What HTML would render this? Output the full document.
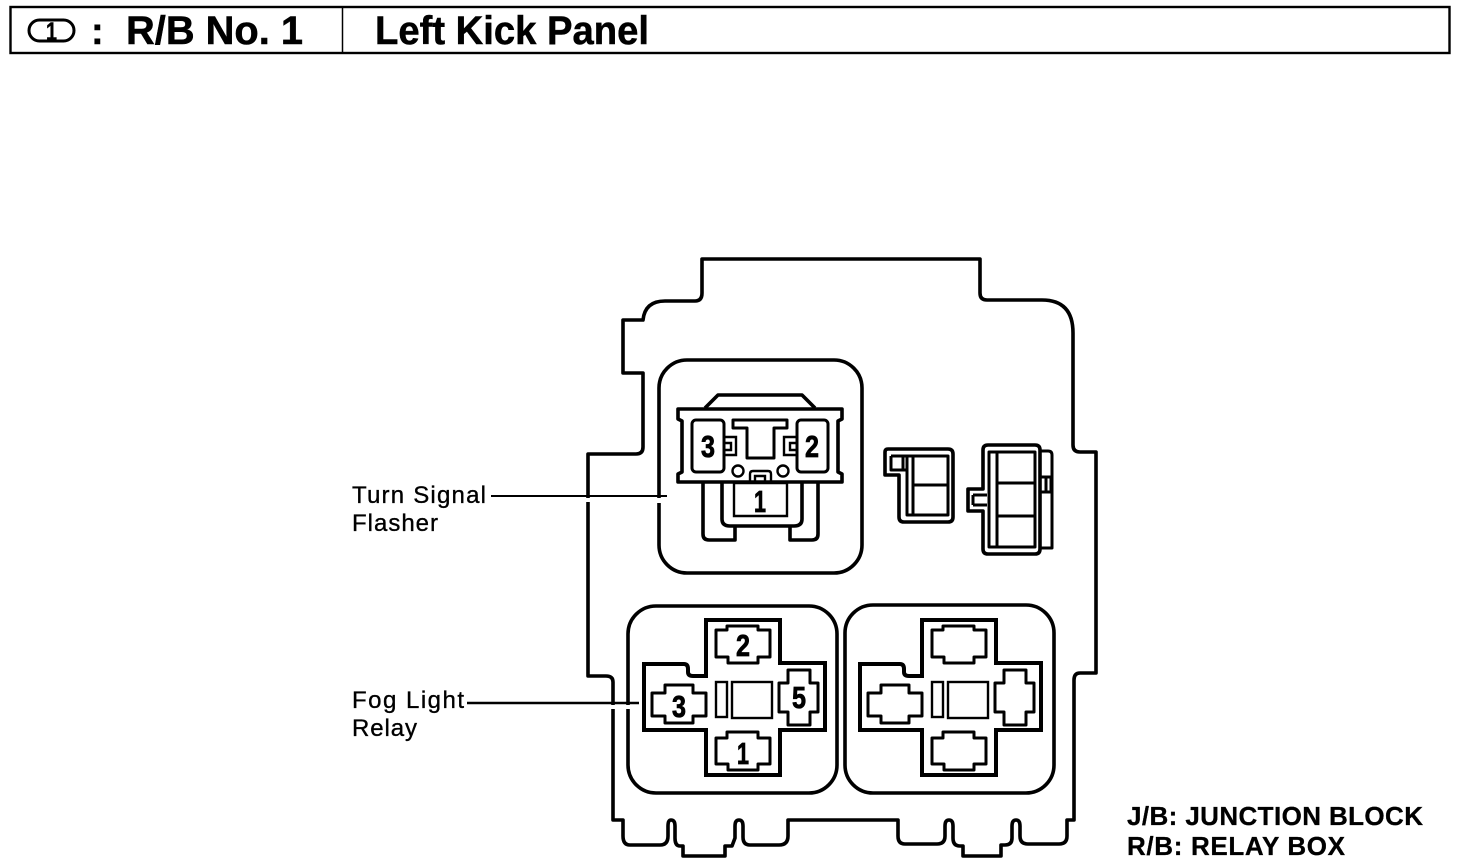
<!DOCTYPE html>
<html><head><meta charset="utf-8"><style>
html,body{margin:0;padding:0;background:#fff;width:1472px;height:864px;overflow:hidden}
svg{display:block}
text{font-family:"Liberation Sans",sans-serif;fill:#000}
.b{font-weight:bold;stroke:#000;stroke-width:.5}
.n{font-weight:bold;font-size:31px;text-anchor:middle;stroke:#000;stroke-width:.8}
.l{font-size:24px;stroke:#000;stroke-width:.35}
.o{fill:none;stroke:#000;stroke-width:3.6;stroke-linejoin:round}
.c{fill:none;stroke:#000;stroke-width:4;stroke-linejoin:miter}
.m{fill:none;stroke:#000;stroke-width:3;stroke-linejoin:round}
.t{fill:none;stroke:#000;stroke-width:2.4}
</style></head><body>
<svg width="1472" height="864" viewBox="0 0 1472 864" xmlns="http://www.w3.org/2000/svg">
<rect x="10.5" y="7" width="1439" height="46" fill="none" stroke="#000" stroke-width="2.4"/>
<line x1="342.5" y1="7" x2="342.5" y2="53" stroke="#000" stroke-width="1.5"/>
<rect x="29" y="20" width="45" height="21" rx="10.5" fill="none" stroke="#000" stroke-width="3"/>
<text x="51.5" y="40" class="b" font-size="25" text-anchor="middle" textLength="11" lengthAdjust="spacingAndGlyphs">1</text>
<text x="91" y="44" class="b" font-size="38">:</text>
<text x="126" y="44" class="b" font-size="40" textLength="177" lengthAdjust="spacingAndGlyphs">R/B No. 1</text>
<text x="375" y="44" class="b" font-size="40" textLength="274" lengthAdjust="spacingAndGlyphs">Left Kick Panel</text>

<path class="o" d="M702 259H980V293Q980 300 987 300H1042Q1073 300 1073 333V445Q1073 452 1080 452H1096V673H1080Q1074 673 1074 680V820H1067V836Q1067 844 1059 844H1028Q1020 844 1020 836V826Q1020 820 1016 820Q1012 820 1012 826V838Q1012 845 1005 845H1001V856H963V846H960Q953 846 953 838V826Q953 820 949 820Q945 820 945 826V836Q945 844 937 844H905Q898 844 898 836V820H788V836Q788 845 779 845H750Q743 845 743 837V826Q743 820 739 820Q735 820 735 826V838L732 846H725V856H683V846H680Q675 846 675 838V826Q675 820 671 820Q668 820 668 826V836Q668 845 660 845H630Q623 845 623 836V820H613V682Q613 676 606 676H588V454H636Q643 454 643 447V373H623V320H643Q645 301 665 301H695Q702 301 702 293Z"/>

<rect x="659" y="360" width="203" height="213" rx="28" class="o"/>
<rect x="628" y="606" width="209" height="187" rx="28" class="o"/>
<rect x="845" y="605" width="209" height="188" rx="28" class="o"/>

<!-- leaders with gaps -->
<rect x="583" y="498" width="10" height="4" fill="#fff"/>
<rect x="654" y="498" width="10" height="5" fill="#fff"/>
<line x1="491" y1="496" x2="667" y2="496" stroke="#000" stroke-width="2"/>
<rect x="608" y="705" width="10" height="4" fill="#fff"/>
<rect x="623" y="705" width="10" height="4" fill="#fff"/>
<line x1="467" y1="703" x2="639" y2="703" stroke="#000" stroke-width="2.6"/>

<text x="352" y="503" class="l" textLength="134">Turn Signal</text>
<text x="352" y="531" class="l" textLength="86">Flasher</text>
<text x="352" y="708" class="l" textLength="112">Fog Light</text>
<text x="352" y="736" class="l" textLength="65">Relay</text>

<!-- flasher -->
<path class="o" d="M705 408L718 395H802L815 408"/>
<path class="o" d="M678 409H842V419L838 421V472L842 474V482H678V474L682 472V421L678 419Z"/>
<path class="o" d="M722 482V519Q722 526 730 526H735V540H709Q703 540 703 534V483M802 482V519Q802 526 794 526H790V540H812Q818 540 818 534V483M735 526H790"/>
<rect x="692" y="420" width="32" height="52" rx="4" class="m"/>
<rect x="797" y="420" width="31" height="52" rx="4" class="m"/>
<path class="m" d="M733 420H787V428H774V458H747V428H733Z"/>
<path class="t" d="M724 437H736V455H724M724 443H731V450H724M797 437H784V455H797M797 443H790V450H797"/>
<circle cx="738" cy="471" r="5.5" class="t"/>
<circle cx="783" cy="471" r="5.5" class="t"/>
<path class="t" d="M750 483V474Q750 471 753 471H768Q771 471 771 474V483M755 483V476H765V483"/>
<path class="t" d="M734 483H787V516H734Z"/>
<text x="708" y="457" class="n" textLength="14" lengthAdjust="spacingAndGlyphs">3</text>
<text x="812" y="457" class="n" textLength="14" lengthAdjust="spacingAndGlyphs">2</text>
<text x="760" y="512" class="n" textLength="12" lengthAdjust="spacingAndGlyphs">1</text>

<!-- small connectors -->
<path class="o" d="M888 449H948Q953 449 953 454V517Q953 522 948 522H904Q899 522 899 517V475H885V452Q885 449 888 449Z"/>
<path class="m" d="M891 456V470H907M891 456H948V515H907V456M913 456V515M903 456V470M913 485H948"/>
<path class="o" d="M988 445H1035Q1040 445 1040 450V549Q1040 554 1035 554H988Q983 554 983 549V511H968V489H983V450Q983 445 988 445Z"/>
<path class="m" d="M989 452H1035V547H989ZM997 452V547M997 483H1035M997 516H1035"/>
<path class="m" d="M1040 451H1048Q1052 451 1052 455V548H1040M1040 477H1051V492H1040M1046 477V492M973 495H987M973 505H987M973 495V505"/>

<!-- crosses -->
<g>
<path class="c" d="M706 620H780V663H825V730H780V775H706V730H644V664H684Q688 664 688 669V672Q688 676 693 676H706Z"/>
<path class="m" d="M716 630H727V626H758V630H770V657H758V663H728V657H716ZM652 693H665V685H693V693H706V716H693V723H665V716H652ZM788 670H810V683H818V712H810V725H788V712H779V683H788ZM716 738H727V732H758V738H770V764H758V770H728V764H716Z"/>
<rect x="716" y="682" width="11" height="35" class="t"/>
<rect x="732" y="682" width="40" height="36" class="t"/>
</g>
<g transform="translate(216,0)">
<path class="c" d="M706 620H780V663H825V730H780V775H706V730H644V664H684Q688 664 688 669V672Q688 676 693 676H706Z"/>
<path class="m" d="M716 630H727V626H758V630H770V657H758V663H728V657H716ZM652 693H665V685H693V693H706V716H693V723H665V716H652ZM788 670H810V683H818V712H810V725H788V712H779V683H788ZM716 738H727V732H758V738H770V764H758V770H728V764H716Z"/>
<rect x="716" y="682" width="11" height="35" class="t"/>
<rect x="732" y="682" width="40" height="36" class="t"/>
</g>
<text x="743" y="656" class="n" textLength="14" lengthAdjust="spacingAndGlyphs">2</text>
<text x="679" y="717" class="n" textLength="14" lengthAdjust="spacingAndGlyphs">3</text>
<text x="799" y="708" class="n" textLength="14" lengthAdjust="spacingAndGlyphs">5</text>
<text x="743" y="764" class="n" textLength="12" lengthAdjust="spacingAndGlyphs">1</text>

<text x="1127" y="825" class="b" font-size="26" style="stroke-width:.3" textLength="296">J/B: JUNCTION BLOCK</text>
<text x="1127" y="855" class="b" font-size="26" style="stroke-width:.3" textLength="218">R/B: RELAY BOX</text>
</svg>
</body></html>
